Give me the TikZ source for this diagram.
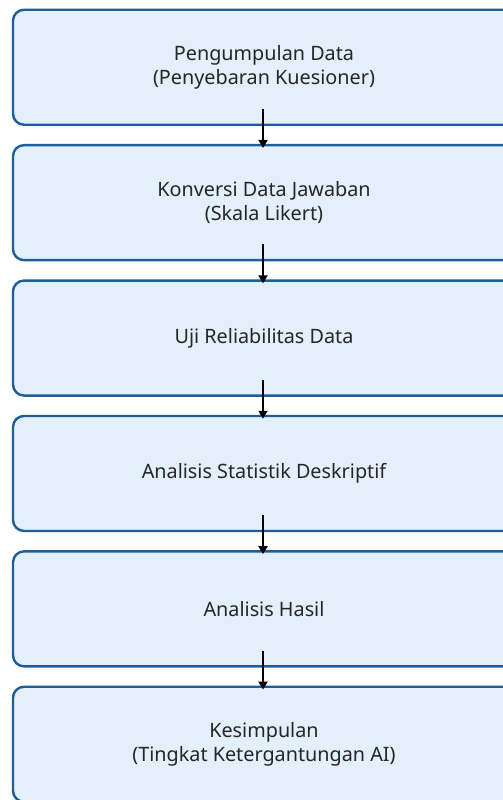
\documentclass[tikz,border=0pt]{standalone}
\usepackage{fontspec}
\setmainfont{Noto Sans}
\usetikzlibrary{arrows.meta}
\definecolor{boxfill}{HTML}{E3EFFB}
\definecolor{boxdraw}{HTML}{1D5E98}
\tikzset{
  stepbox/.style={draw=boxdraw, fill=boxfill, line width=2.4pt, rounded corners=11pt,
    minimum width=502pt, minimum height=115pt, inner sep=0pt, align=center,
    font=\fontsize{19.8pt}{24pt}\selectfont, text=black!85},
  arr/.style={line width=2pt, black, -{Triangle[length=8pt,width=9pt]}}
}
\begin{document}
\begin{tikzpicture}[x=1pt,y=1pt]
\useasboundingbox (0,0) rectangle (503,-800);
\node[stepbox] (b1) at (264,-67.25) {Pengumpulan Data\\(Penyebaran Kuesioner)};
\node[stepbox] (b2) at (264,-202.65) {Konversi Data Jawaban\\(Skala Likert)};
\node[stepbox] (b3) at (264,-338.05) {Uji Reliabilitas Data};
\node[stepbox] (b4) at (264,-473.45) {Analisis Statistik Deskriptif};
\node[stepbox] (b5) at (264,-608.85) {Analisis Hasil};
\node[stepbox] (b6) at (264,-744.25) {Kesimpulan\\(Tingkat Ketergantungan AI)};
\foreach \a/\b in {b1/b2,b2/b3,b3/b4,b4/b5,b5/b6}{
  \draw[arr] ([xshift=-1pt,yshift=17pt]\a.south) -- ([xshift=-1pt,yshift=-4pt]\b.north);
}
\end{tikzpicture}
\end{document}
